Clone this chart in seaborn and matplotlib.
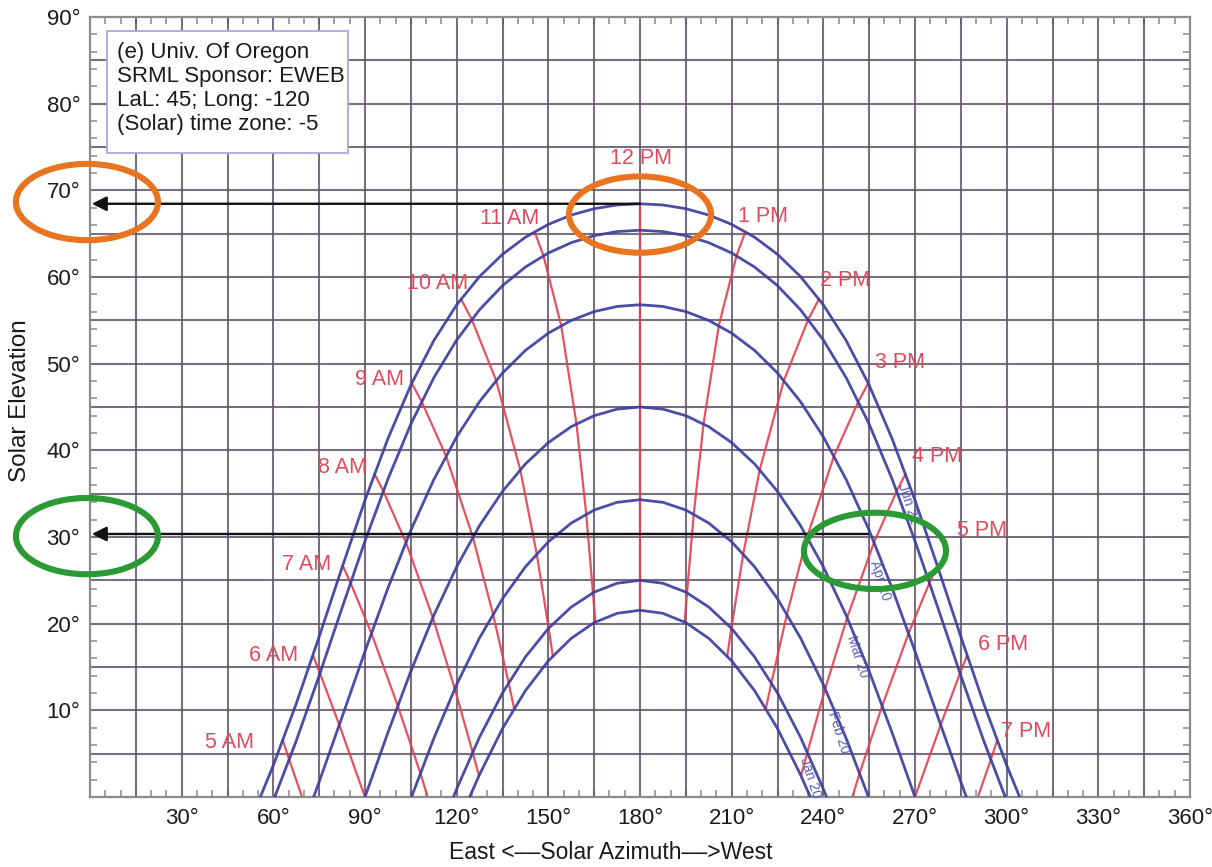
import numpy as np
import pandas as pd
import matplotlib
matplotlib.use("Agg")
import matplotlib.pyplot as plt
import seaborn as sns
from matplotlib.patches import Ellipse, Rectangle

sns.set_theme(style="white")
plt.rcParams['font.family'] = ['Liberation Sans', 'DejaVu Sans']

# ---------------- data ----------------
jun_az = [55.75, 60, 67.5, 75, 82.5, 90, 97.5, 105, 112.5, 120, 127.5, 135, 142.5, 150, 157.5, 165, 172.5, 180,
          187.5, 195, 202.5, 210, 217.5, 225, 232.5, 240, 247.5, 255, 262.5, 270, 277.5, 285, 292.5, 300, 304.25]
jun_el = [0, 3.66, 10.77, 18.50, 26.49, 34.25, 41.35, 47.52, 52.65, 56.79, 60.06, 62.62, 64.59, 66.07, 67.15, 67.88, 68.31, 68.45,
          68.31, 67.88, 67.15, 66.07, 64.59, 62.62, 60.06, 56.79, 52.65, 47.52, 41.35, 34.25, 26.49, 18.50, 10.77, 3.66, 0]

may_az = [60.46, 67.5, 75, 82.5, 90, 97.5, 105, 112.5, 120, 127.5, 135, 142.5, 150, 157.5, 165, 172.5, 180,
          187.5, 195, 202.5, 210, 217.5, 225, 232.5, 240, 247.5, 255, 262.5, 270, 277.5, 285, 292.5, 299.54]
may_el = [0, 6.48, 14.0, 21.83, 29.54, 36.69, 43.02, 48.36, 52.73, 56.23, 59.0, 61.15, 62.77, 63.96, 64.77, 65.24, 65.40,
          65.24, 64.77, 63.96, 62.77, 61.15, 59.0, 56.23, 52.73, 48.36, 43.02, 36.69, 29.54, 21.83, 14.0, 6.48, 0]

apr_az = [73.19, 75, 82.5, 90, 97.5, 105, 112.5, 120, 127.5, 135, 142.5, 150, 157.5, 165, 172.5, 180,
          187.5, 195, 202.5, 210, 217.5, 225, 232.5, 240, 247.5, 255, 262.5, 270, 277.5, 285, 286.81]
apr_el = [0, 1.75, 9.24, 16.81, 24.10, 30.77, 36.61, 41.56, 45.63, 48.92, 51.53, 53.52, 54.99, 56.01, 56.60, 56.80,
          56.60, 56.01, 54.99, 53.52, 51.53, 48.92, 45.63, 41.56, 36.61, 30.77, 24.10, 16.81, 9.24, 1.75, 0]

mar_az = [90, 97.5, 105, 112.5, 120, 127.5, 135, 142.5, 150, 157.5, 165, 172.5, 180,
          187.5, 195, 202.5, 210, 217.5, 225, 232.5, 240, 247.5, 255, 262.5, 270]
mar_el = [0, 7.43, 14.51, 20.94, 26.57, 31.33, 35.26, 38.43, 40.89, 42.73, 44.0, 44.75, 45.0,
          44.75, 44.0, 42.73, 40.89, 38.43, 35.26, 31.33, 26.57, 20.94, 14.51, 7.43, 0]

feb_az = [105.22, 112.5, 120, 127.5, 135, 142.5, 150, 157.5, 165, 172.5, 180,
          187.5, 195, 202.5, 210, 217.5, 225, 232.5, 240, 247.5, 254.78]
feb_el = [0, 6.74, 12.98, 18.37, 22.88, 26.56, 29.44, 31.61, 33.11, 34.0, 34.30,
          34.0, 33.11, 31.61, 29.44, 26.56, 22.88, 18.37, 12.98, 6.74, 0]

jan_az = [118.93, 120, 127.5, 135, 142.5, 150, 157.5, 165, 172.5, 180,
          187.5, 195, 202.5, 210, 217.5, 225, 232.5, 240, 241.07]
jan_el = [0, 0.93, 6.92, 12.0, 16.16, 19.44, 21.92, 23.64, 24.66, 25.0,
          24.66, 23.64, 21.92, 19.44, 16.16, 12.0, 6.92, 0.93, 0]

dec_az = [124.25, 127.5, 135, 142.5, 150, 157.5, 165, 172.5, 180,
          187.5, 195, 202.5, 210, 217.5, 225, 232.5, 235.75]
dec_el = [0, 2.60, 7.90, 12.27, 15.71, 18.31, 20.12, 21.19, 21.55,
          21.19, 20.12, 18.31, 15.71, 12.27, 7.90, 2.60, 0]

day_curves = {
    "Jun 21": (jun_az, jun_el), "May 21": (may_az, may_el), "Apr 20": (apr_az, apr_el),
    "Mar 20": (mar_az, mar_el), "Feb 20": (feb_az, feb_el), "Jan 20": (jan_az, jan_el),
    "Dec 21": (dec_az, dec_el),
}

hour_lines = {
    "5 AM":  ([63.12, 65.2, 69.4], [6.52, 4.30, 0]),
    "6 AM":  ([72.96, 75.27, 81.6, 90.0], [16.34, 14.27, 8.31, 0]),
    "7 AM":  ([82.7, 85.27, 92.1, 100.7, 108.1, 110.5], [26.70, 24.71, 18.89, 10.55, 2.78, 0]),
    "8 AM":  ([93.1, 95.97, 103.4, 112.2, 119.4, 125.2, 127.3], [37.28, 35.31, 29.39, 20.70, 12.48, 5.19, 2.46]),
    "9 AM":  ([105.3, 108.5, 116.5, 125.3, 131.9, 137.0, 138.8], [47.74, 45.66, 39.36, 30.0, 21.10, 13.19, 10.21]),
    "10 AM": ([121.4, 124.9, 132.9, 140.8, 146.2, 150.1, 151.45], [57.47, 55.14, 48.08, 37.76, 28.06, 19.49, 16.28]),
    "11 AM": ([145.5, 148.4, 154.2, 159.2, 162.4, 164.6, 165.4], [65.24, 62.46, 54.41, 43.08, 32.67, 23.58, 20.19]),
    "12 PM": ([180, 180], [68.45, 21.55]),
    "1 PM":  ([214.5, 211.6, 205.8, 200.8, 197.6, 195.4, 194.6], [65.24, 62.46, 54.41, 43.08, 32.67, 23.58, 20.19]),
    "2 PM":  ([238.6, 235.1, 227.1, 219.2, 213.8, 209.9, 208.55], [57.47, 55.14, 48.08, 37.76, 28.06, 19.49, 16.28]),
    "3 PM":  ([254.7, 251.5, 243.5, 234.7, 228.1, 223.0, 221.2], [47.74, 45.66, 39.36, 30.0, 21.10, 13.19, 10.21]),
    "4 PM":  ([266.9, 264.03, 256.6, 247.8, 240.6, 234.8, 232.7], [37.28, 35.31, 29.39, 20.70, 12.48, 5.19, 2.46]),
    "5 PM":  ([277.3, 274.73, 267.9, 259.3, 251.9, 249.5], [26.70, 24.71, 18.89, 10.55, 2.78, 0]),
    "6 PM":  ([287.04, 284.73, 278.4, 270.0], [16.34, 14.27, 8.31, 0]),
    "7 PM":  ([296.88, 294.8, 290.6], [6.52, 4.30, 0]),
}

hour_label_text = ["5 AM", "6 AM", "7 AM", "8 AM", "9 AM", "10 AM", "11 AM", "12 PM",
                   "1 PM", "2 PM", "3 PM", "4 PM", "5 PM", "6 PM", "7 PM"]
hour_label_az = [45.8, 60.2, 71.0, 82.5, 94.9, 113.9, 137.4, 180.3, 220.2, 247.1, 265.1, 277.1, 291.8, 298.7, 306.2]
hour_label_el = [6.3, 16.3, 26.8, 38.0, 48.2, 59.3, 66.8, 73.7, 67.0, 59.6, 50.1, 39.3, 30.8, 17.6, 7.6]

date_label_text = ["Jun 21", "Apr 20", "Mar 20", "Feb 20", "Jan 20"]
date_label_az = [267.9, 258.7, 251.2, 245.0, 235.8]
date_label_el = [33.9, 25.0, 16.2, 7.4, 2.2]

x_tick_vals = [30, 60, 90, 120, 150, 180, 210, 240, 270, 300, 330, 360]
x_tick_labels = ["30°", "60°", "90°", "120°", "150°", "180°", "210°", "240°", "270°", "300°", "330°", "360°"]
y_tick_vals = [10, 20, 30, 40, 50, 60, 70, 80, 90]
y_tick_labels = ["10°", "20°", "30°", "40°", "50°", "60°", "70°", "80°", "90°"]

info_lines = ["(e) Univ. Of Oregon", "SRML Sponsor: EWEB", "LaL: 45; Long: -120", "(Solar) time zone: -5"]

noon_peak_el = 68.45
pm5_el = 30.35
pm5_az = 254.6

# ---------------- styling ----------------
BLUE = "#3b3f9c"
RED = "#e2404e"
LABEL_RED = "#e04a5c"
GRID = "#62566a"
ORANGE = "#e8741f"
GREEN = "#2a9a35"
TXT = "#1a1a1a"

fig = plt.figure(figsize=(12.12, 8.67), dpi=100)
ax = fig.add_axes([90 / 1212, 1 - 797 / 867, 1100 / 1212, 780 / 867])
ax.set_xlim(0, 360)
ax.set_ylim(0, 90)

# grid every 15 deg azimuth, 5 deg elevation
ax.vlines(np.arange(15, 360, 15), 0, 90, colors=GRID, lw=1.5, alpha=0.85, zorder=1)
ax.hlines(np.arange(5, 90, 5), 0, 360, colors=GRID, lw=1.5, alpha=0.85, zorder=1)

# day curves
day_df = pd.concat([pd.DataFrame({"az": a, "el": e, "curve": k}) for k, (a, e) in day_curves.items()],
                   ignore_index=True)
sns.lineplot(data=day_df, x="az", y="el", units="curve", estimator=None, sort=False,
             color=BLUE, lw=2.0, alpha=0.92, ax=ax, zorder=3, legend=False)

# hour lines
hour_df = pd.concat([pd.DataFrame({"az": a, "el": e, "hour": k}) for k, (a, e) in hour_lines.items()],
                    ignore_index=True)
sns.lineplot(data=hour_df, x="az", y="el", units="hour", estimator=None, sort=False,
             color=RED, lw=1.6, alpha=0.9, ax=ax, zorder=2.5, legend=False)

for t, a, e in zip(hour_label_text, hour_label_az, hour_label_el):
    ax.text(a, e, t, color=LABEL_RED, fontsize=15.5, ha="center", va="center", zorder=5)

for t, a, e in zip(date_label_text, date_label_az, date_label_el):
    ax.text(a, e, t, color="#4a4eaa", fontsize=10, ha="center", va="center", rotation=-72,
            zorder=4, alpha=0.9)

# info box
ax.add_patch(Rectangle((5.56, 74.3), 78.8, 14.1, facecolor="white", edgecolor="#a9a9dc",
                       lw=1.3, zorder=6))
for i, line in enumerate(info_lines):
    ax.text(8.8, 85.96 - i * 2.77, line, fontsize=16, color=TXT, ha="left", va="center", zorder=7)

# arrows
for az_start, el_level in [(180, noon_peak_el), (pm5_az, pm5_el)]:
    ax.annotate("", xy=(0.6, el_level), xytext=(az_start, el_level),
                arrowprops=dict(arrowstyle="-|>", color="#111111", lw=1.7, mutation_scale=22,
                                shrinkA=0, shrinkB=0), zorder=8, annotation_clip=False)

# ellipses
for (cx, cy), col in [((-1.0, 68.65), ORANGE), ((180.0, 67.2), ORANGE),
                      ((-1.0, 30.1), GREEN), ((256.9, 28.4), GREEN)]:
    ax.add_patch(Ellipse((cx, cy), 46.5, 8.8, fill=False, edgecolor=col, lw=4.4,
                         zorder=9, clip_on=False))

# ticks
ax.set_xticks(x_tick_vals)
ax.set_xticklabels(x_tick_labels, fontsize=16, color=TXT)
ax.set_yticks(y_tick_vals)
ax.set_yticklabels(y_tick_labels, fontsize=16, color=TXT)
ax.set_xticks(np.arange(5, 360, 5), minor=True)
ax.set_yticks(np.arange(2, 90, 2), minor=True)
ax.tick_params(axis="x", which="major", length=0, pad=8)
ax.tick_params(axis="y", which="major", length=0, pad=7)
ax.tick_params(axis="both", which="minor", direction="in", length=5, width=1.1, color="#8a8a8a",
               top=True, right=True, bottom=True, left=True)
for s in ax.spines.values():
    s.set_color("#8c8c8c")
    s.set_linewidth(1.6)

ax.set_xlabel("East <\u2013\u2013Solar Azimuth\u2013\u2013>West", fontsize=16.5, color=TXT, labelpad=9)
ax.xaxis.set_label_coords((611 - 90) / 1100, -0.056)
ax.set_ylabel("Solar Elevation", fontsize=17.5, color=TXT)
ax.yaxis.set_label_coords(-(90 - 31) / 1100, (797 - 401) / 780)

fig.savefig("out.png", dpi=100, facecolor="white")
